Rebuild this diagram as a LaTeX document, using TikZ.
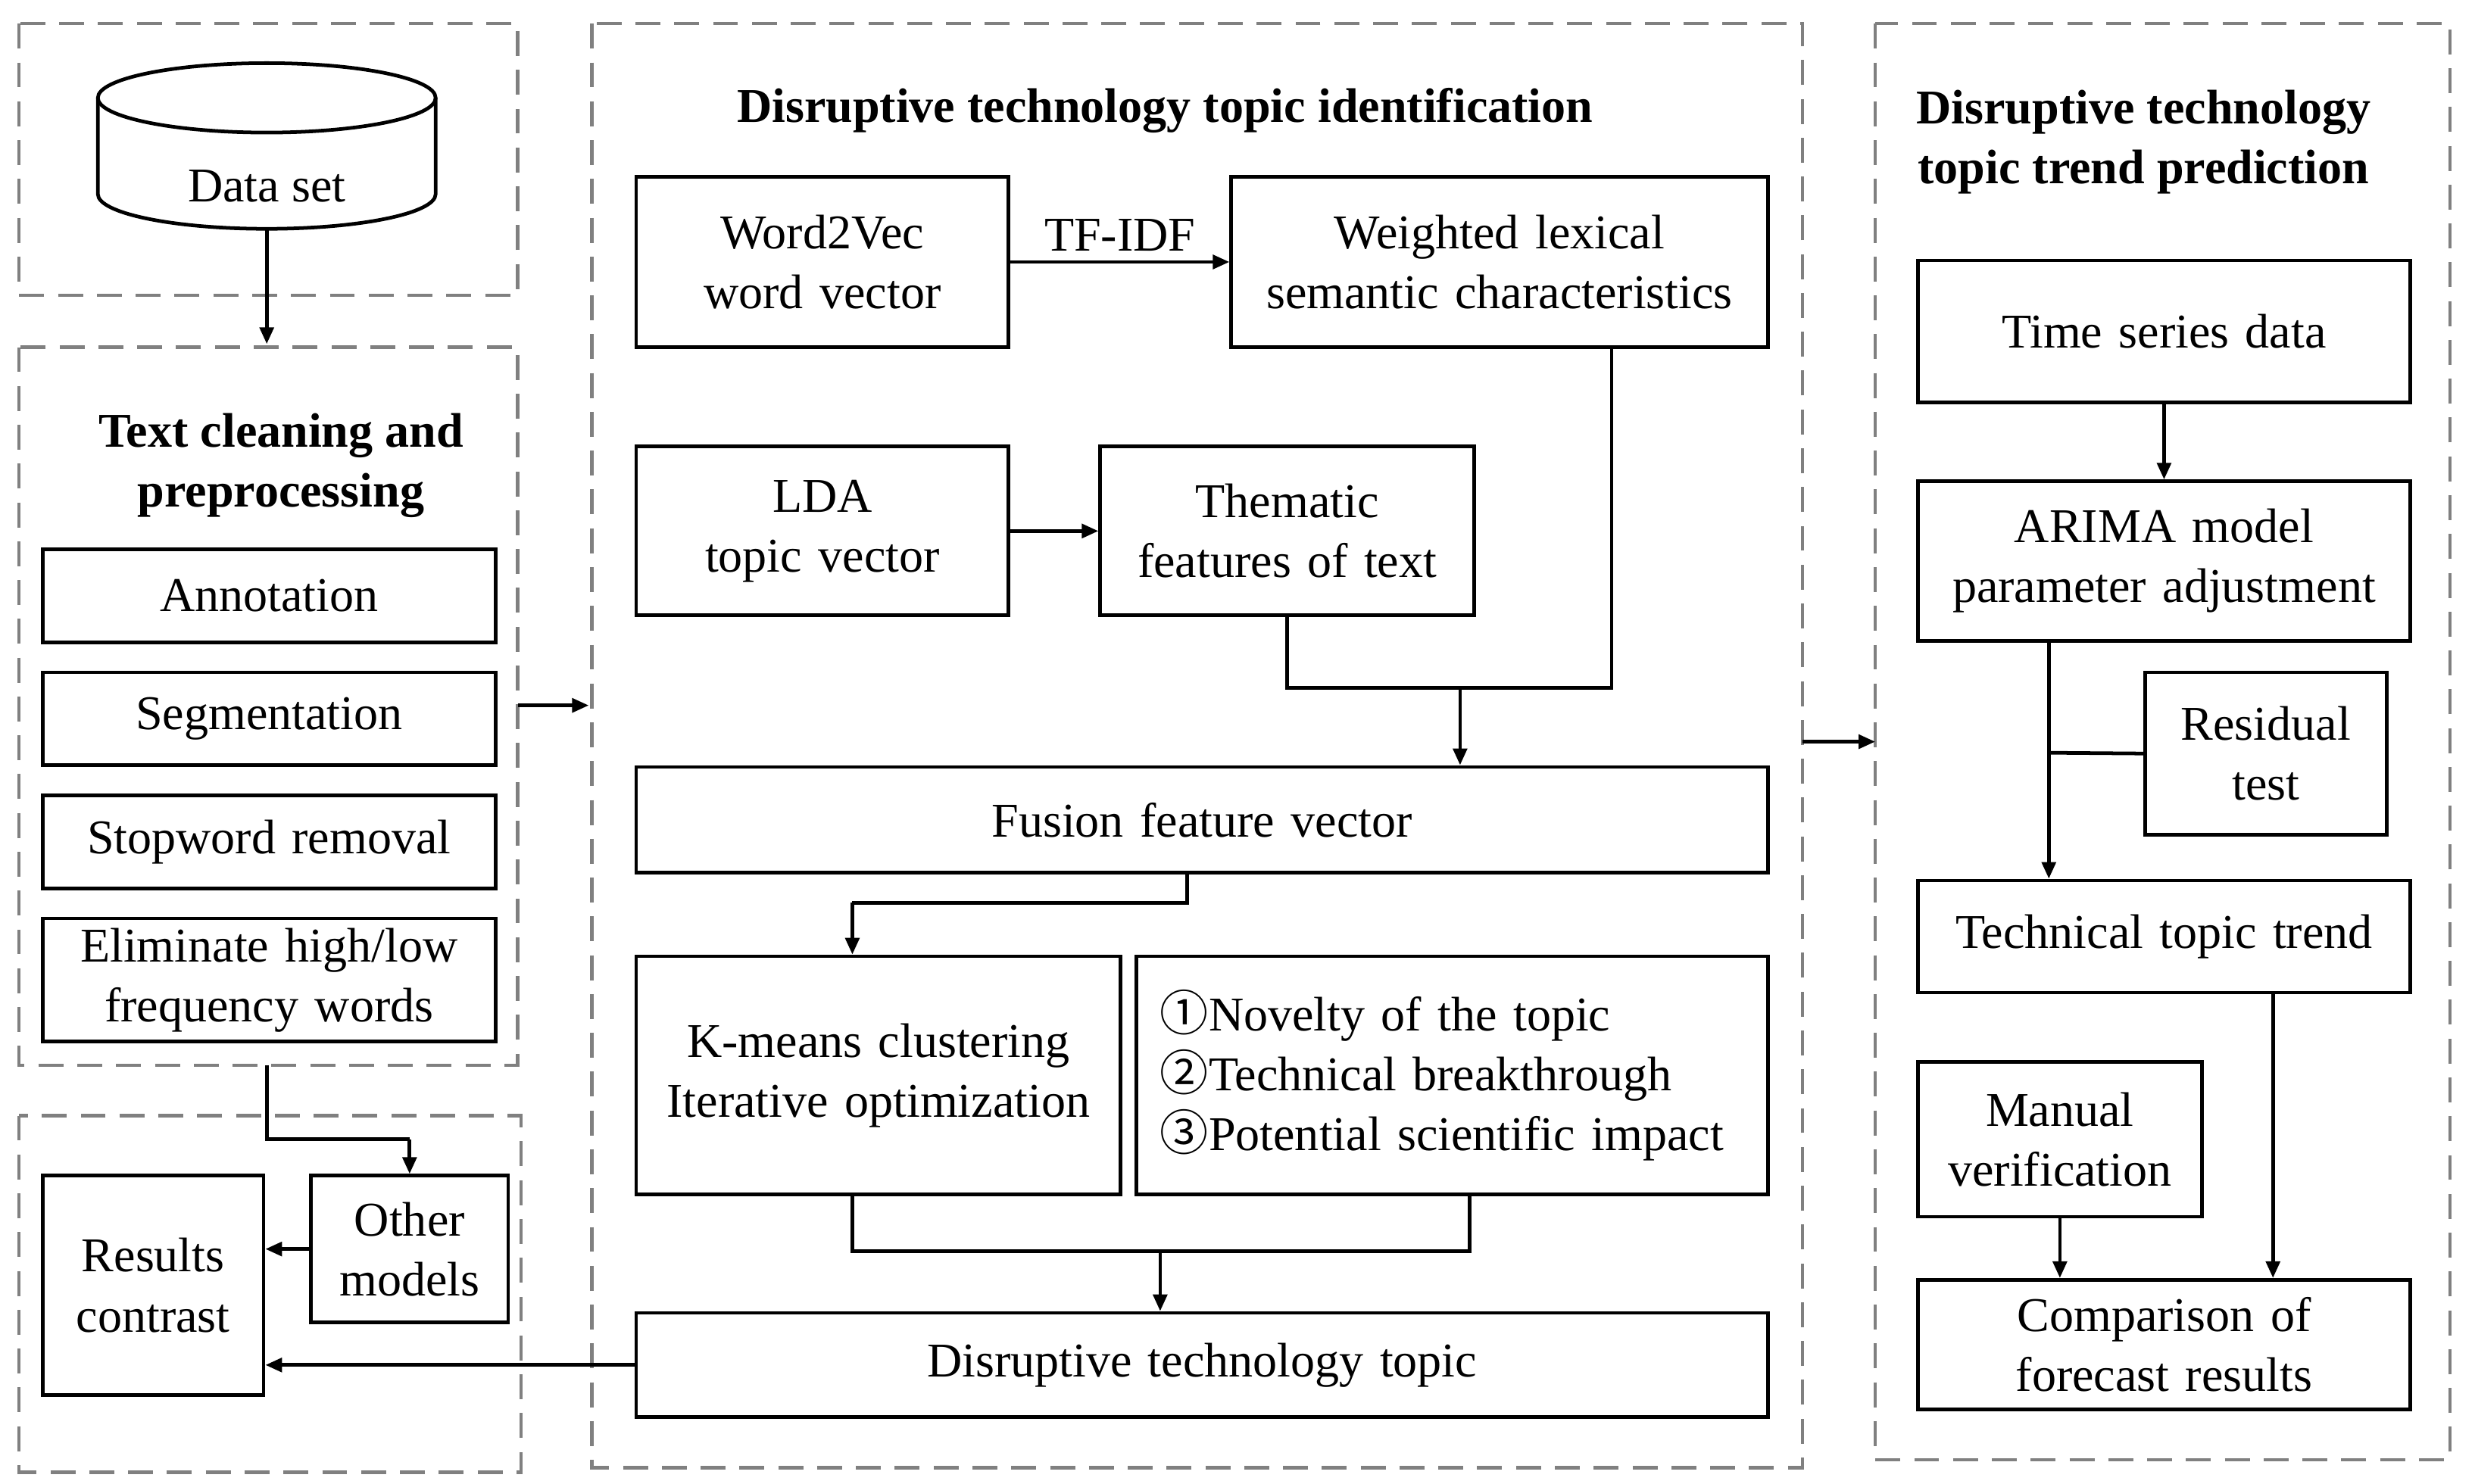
\documentclass[tikz,border=0pt]{standalone}
\usepackage{fontspec}
\setmainfont{Liberation Serif}
\newfontfamily\cjk{Noto Sans CJK SC}
\usetikzlibrary{arrows.meta}
\begin{document}
\begin{tikzpicture}[x=0.02cm,y=-0.02cm,
 font=\fontsize{17.5}{21.6}\selectfont,
 box/.style={draw,line width=1.3pt,align=center,inner sep=0pt},
 dbox/.style={draw=gray,dashed,line width=1.2pt,dash pattern=on 9pt off 5pt},
 ln/.style={line width=1.3pt},
 ar/.style={line width=1.3pt,-{Triangle[length=6pt,width=5pt]}},
 ttl/.style={font=\fontsize{17.5}{21.6}\selectfont\bfseries,align=center}]
\useasboundingbox (0,0) rectangle (1568,940);
% dashed frames
\draw[dbox] (12,15) rectangle (328,187);
\draw[dbox] (12,220) rectangle (328,675);
\draw[dbox] (12,707) rectangle (330,933);
\draw[dbox] (375,15) rectangle (1142,930);
\draw[dbox] (1188,15) rectangle (1552,925);
% cylinder
\draw[line width=1.3pt,fill=white] (62,62) -- (62,123) arc[start angle=180,end angle=360,x radius=107,y radius=-22] -- (276,62);
\draw[line width=1.3pt] (169,62) ellipse [x radius=107,y radius=22];
\node (ds) at (169,118) {Data set};
\coordinate (dsb) at (169,145);
\coordinate (tcc) at (169,218);
\draw[ar] (dsb) -- (tcc);
\node[ttl] at (178,295) {Text cleaning and\\preprocessing};
\node[box,text width=5.74cm,minimum height=1.18cm] (ann) at (170.5,377.5) {Annotation};
\node[box,text width=5.74cm,minimum height=1.18cm] (seg) at (170.5,455.5) {Segmentation};
\node[box,text width=5.74cm,minimum height=1.18cm] (stop) at (170.5,533.5) {Stopword removal};
\node[box,text width=5.74cm,minimum height=1.56cm] (elim) at (170.5,621) {Eliminate high/low\\frequency words};
\coordinate (l1) at (328,447); \coordinate (m1) at (373,447);
\draw[ar] (l1) -- (m1);
\node[box,text width=2.5cm,minimum height=1.86cm] (oth) at (259.5,791.5) {Other\\models};
\node[box,text width=2.8cm,minimum height=2.78cm] (res) at (97,814.5) {Results\\contrast};
\coordinate (c1) at (169,675); \coordinate (c2) at (169,722); \coordinate (c3) at (259.5,722);
\draw[ln] (c1) -- (c2) -- (c3);
\draw[ar] (c3) -- (oth.north);
\draw[ar] (oth.west) -- (oth.west -| res.east);
% middle
\node[ttl] at (738,70) {Disruptive technology topic identification};
\node[box,text width=4.72cm,minimum height=2.16cm] (w2v) at (521,166) {Word2Vec\\word vector};
\node[box,text width=6.8cm,minimum height=2.16cm] (wls) at (950,166) {Weighted lexical\\semantic characteristics};
\draw[ar] (w2v.east) -- node[above] {TF-IDF} (wls.west);
\node[box,text width=4.72cm,minimum height=2.14cm] (lda) at (521,336.5) {LDA\\topic vector};
\node[box,text width=4.74cm,minimum height=2.14cm] (thm) at (815.5,336.5) {Thematic\\features of text};
\draw[ar] (lda) -- (thm);
\node[box,text width=14.34cm,minimum height=1.34cm] (fus) at (761.5,519.5) {Fusion feature vector};
\coordinate (j1) at (815.5,436); \coordinate (j2) at (1021,436); \coordinate (j3) at (925,436);
\draw[ln] (thm.south -| j1) -- (j1) -- (j2) -- (wls.south -| j2);
\draw[ar] (j3) -- (fus.north -| j3);
\node[box,text width=6.14cm,minimum height=3.02cm] (km) at (556.5,681.5) {K-means clustering\\Iterative optimization};
\node[box,text width=8cm,minimum height=3.02cm,align=left] (nov) at (920,681.5) {\hspace{0.3cm}{\cjk ①}Novelty of the topic\\\hspace{0.3cm}{\cjk ②}Technical breakthrough\\\hspace{0.3cm}{\cjk ③}Potential scientific impact};
\coordinate (f1) at (752,572); \coordinate (f2) at (540,572);
\draw[ln] (fus.south -| f1) -- (f1) -- (f2);
\draw[ar] (f2) -- (km.north -| f2);
\node[box,text width=14.34cm,minimum height=1.32cm] (dtt) at (761.5,865) {Disruptive technology topic};
\coordinate (k1) at (540,793); \coordinate (k2) at (931,793); \coordinate (k3) at (735,793);
\draw[ln] (km.south -| k1) -- (k1) -- (k2) -- (nov.south -| k2);
\draw[ar] (k3) -- (dtt.north -| k3);
\draw[ar] (dtt.west) -- (dtt.west -| res.east);
\coordinate (m2) at (1142,470); \coordinate (r2) at (1188,470);
\draw[ar] (m2) -- (r2);
% right
\node[ttl] at (1358,90) {Disruptive technology\\topic trend prediction};
\node[box,text width=6.24cm,minimum height=1.8cm] (ts) at (1371,210) {Time series data};
\node[box,text width=6.24cm,minimum height=2.02cm] (ari) at (1371,355.5) {ARIMA model\\parameter adjustment};
\draw[ar] (ts) -- (ari);
\node[box,text width=3.06cm,minimum height=2.06cm] (rt) at (1435.5,477.5) {Residual\\test};
\node[box,text width=6.24cm,minimum height=1.42cm] (ttt) at (1371,593.5) {Technical topic trend};
\coordinate (a1) at (1298,477);
\draw[ar] (ari.south -| a1) -- (ttt.north -| a1);
\draw[ln] (a1) -- (rt.west);
\node[box,text width=3.6cm,minimum height=1.96cm] (man) at (1305,722) {Manual\\verification};
\node[box,text width=6.24cm,minimum height=1.64cm] (cmp) at (1371,852) {Comparison of\\forecast results};
\draw[ar] (man.south) -- (man.south |- cmp.north);
\coordinate (t1) at (1440,629);
\draw[ar] (t1) -- (t1 |- cmp.north);
\end{tikzpicture}
\end{document}
